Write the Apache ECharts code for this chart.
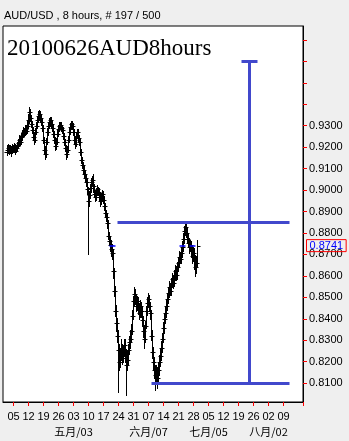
<!DOCTYPE html>
<html><head><meta charset="utf-8">
<script src="https://cdn.jsdelivr.net/npm/echarts@6/dist/echarts.min.js"></script>
<style>html,body{margin:0;padding:0;background:#efefef}#c{width:349px;height:441px}</style>
</head><body><div id="c"></div>
<script>
const symbolTitle = 'AUD/USD , 8 hours, # 197 / 500';
const chartNote = '20100626AUD8hours';
const firstBarTime = '2010-04-01 00:00';

const opens = [.9179,.9188,.9197,.9183,.9192,.9179,.9197,.9188,.9202,.9183,
.9197,.9206,.9220,.9234,.9225,.9248,.9257,.9271,.9267,.9285,
.9276,.9299,.9327,.9364,.9336,.9308,.9280,.9248,.9234,.9271,
.9299,.9327,.9345,.9354,.9336,.9317,.9290,.9234,.9188,.9169,
.9225,.9271,.9299,.9317,.9327,.9308,.9290,.9262,.9234,.9206,
.9225,.9262,.9285,.9299,.9304,.9290,.9280,.9253,.9225,.9197,
.9169,.9188,.9234,.9271,.9294,.9308,.9299,.9271,.9234,.9216,
.9253,.9271,.9243,.9225,.9179,.9142,.9118,.9095,.9077,.9058,
.9040,.9003,.8947,.8975,.9012,.9040,.9049,.9017,.8984,.8966,
.8984,.9003,.8993,.8970,.8947,.8966,.8984,.8956,.8924,.8891,
.8873,.8845,.8785,.8762,.8743,.8725,.8706,.8623,.8530,.8438,
.8382,.8322,.8253,.8197,.8225,.8262,.8215,.8243,.8276,.8229,
.8183,.8206,.8253,.8290,.8308,.8345,.8415,.8484,.8517,.8493,
.8461,.8484,.8447,.8429,.8461,.8438,.8392,.8345,.8308,.8368,
.8438,.8475,.8493,.8461,.8429,.8322,.8243,.8197,.8160,.8137,
.8151,.8123,.8160,.8197,.8225,.8262,.8308,.8355,.8401,.8429,
.8461,.8493,.8521,.8549,.8530,.8567,.8586,.8567,.8600,.8623,
.8604,.8641,.8660,.8688,.8678,.8706,.8734,.8771,.8808,.8827,
.8799,.8771,.8753,.8734,.8743,.8715,.8692,.8706,.8669,.8641,
.8660];

const highs = [.9206,.9211,.9206,.9206,.9202,.9211,.9206,.9216,.9211,.9206,
.9220,.9234,.9253,.9248,.9262,.9276,.9290,.9285,.9299,.9299,
.9317,.9350,.9382,.9373,.9345,.9317,.9290,.9262,.9285,.9313,
.9341,.9364,.9368,.9364,.9350,.9327,.9299,.9243,.9202,.9239,
.9285,.9313,.9331,.9336,.9336,.9317,.9299,.9271,.9243,.9239,
.9276,.9299,.9313,.9313,.9313,.9299,.9290,.9262,.9234,.9206,
.9202,.9248,.9285,.9308,.9317,.9317,.9308,.9280,.9248,.9267,
.9280,.9280,.9253,.9234,.9188,.9151,.9128,.9109,.9086,.9072,
.9049,.9012,.8993,.9026,.9054,.9063,.9072,.9026,.8998,.9003,
.9017,.9012,.9003,.8980,.8980,.8998,.8993,.8966,.8933,.8901,
.8882,.8854,.8799,.8780,.8762,.8743,.8715,.8632,.8549,.8461,
.8401,.8345,.8276,.8253,.8299,.8280,.8271,.8299,.8299,.8253,
.8243,.8276,.8317,.8345,.8373,.8438,.8503,.8544,.8535,.8512,
.8503,.8498,.8470,.8484,.8475,.8452,.8410,.8364,.8387,.8456,
.8498,.8517,.8507,.8475,.8438,.8345,.8262,.8215,.8178,.8178,
.8169,.8188,.8225,.8253,.8290,.8331,.8378,.8424,.8456,.8489,
.8512,.8544,.8572,.8563,.8586,.8609,.8600,.8623,.8646,.8641,
.8660,.8683,.8711,.8706,.8729,.8757,.8794,.8827,.8840,.8836,
.8817,.8789,.8771,.8762,.8757,.8734,.8729,.8725,.8692,.8688,
.8762];

const lows = [.9165,.9174,.9169,.9174,.9160,.9174,.9179,.9179,.9169,.9179,
.9188,.9197,.9211,.9211,.9216,.9234,.9248,.9253,.9257,.9262,
.9267,.9290,.9313,.9322,.9294,.9267,.9234,.9216,.9225,.9262,
.9290,.9317,.9331,.9322,.9304,.9276,.9220,.9174,.9146,.9155,
.9216,.9257,.9290,.9304,.9294,.9276,.9248,.9220,.9188,.9192,
.9216,.9253,.9276,.9285,.9276,.9267,.9239,.9211,.9183,.9146,
.9155,.9179,.9225,.9262,.9285,.9285,.9257,.9220,.9197,.9206,
.9243,.9229,.9211,.9165,.9128,.9104,.9081,.9063,.9040,.9021,
.8984,.8702,.8924,.8961,.8993,.9021,.8993,.8966,.8947,.8952,
.8975,.8975,.8952,.8928,.8933,.8952,.8938,.8905,.8878,.8854,
.8822,.8771,.8743,.8715,.8692,.8678,.8590,.8507,.8415,.8345,
.8290,.8058,.8160,.8174,.8206,.8188,.8197,.8225,.8197,.8045,
.8160,.8188,.8234,.8262,.8290,.8327,.8401,.8461,.8470,.8438,
.8442,.8424,.8401,.8410,.8410,.8364,.8317,.8266,.8290,.8355,
.8419,.8456,.8438,.8401,.8299,.8215,.8160,.8123,.8068,.8105,
.8077,.8100,.8137,.8178,.8206,.8243,.8290,.8336,.8382,.8410,
.8442,.8475,.8503,.8512,.8512,.8549,.8544,.8553,.8581,.8581,
.8586,.8623,.8641,.8660,.8660,.8688,.8715,.8753,.8789,.8780,
.8753,.8734,.8706,.8715,.8688,.8660,.8669,.8632,.8600,.8614,
.8641];

const closes = [.9188,.9197,.9183,.9192,.9179,.9197,.9188,.9202,.9183,.9197,
.9206,.9220,.9234,.9225,.9248,.9257,.9271,.9267,.9285,.9276,
.9299,.9327,.9364,.9336,.9308,.9280,.9248,.9234,.9271,.9299,
.9327,.9345,.9354,.9336,.9317,.9290,.9234,.9188,.9169,.9225,
.9271,.9299,.9317,.9327,.9308,.9290,.9262,.9234,.9206,.9225,
.9262,.9285,.9299,.9304,.9290,.9280,.9253,.9225,.9197,.9169,
.9188,.9234,.9271,.9294,.9308,.9299,.9271,.9234,.9216,.9253,
.9271,.9243,.9225,.9179,.9142,.9118,.9095,.9077,.9058,.9040,
.9003,.8947,.8975,.9012,.9040,.9049,.9017,.8984,.8966,.8984,
.9003,.8993,.8970,.8947,.8966,.8984,.8956,.8924,.8891,.8873,
.8845,.8785,.8762,.8743,.8725,.8706,.8623,.8530,.8438,.8382,
.8322,.8253,.8197,.8225,.8262,.8215,.8243,.8276,.8229,.8183,
.8206,.8253,.8290,.8308,.8345,.8415,.8484,.8517,.8493,.8461,
.8484,.8447,.8429,.8461,.8438,.8392,.8345,.8308,.8368,.8438,
.8475,.8493,.8461,.8429,.8322,.8243,.8197,.8160,.8137,.8151,
.8123,.8160,.8197,.8225,.8262,.8308,.8355,.8401,.8429,.8461,
.8493,.8521,.8549,.8530,.8567,.8586,.8567,.8600,.8623,.8604,
.8641,.8660,.8688,.8678,.8706,.8734,.8771,.8808,.8827,.8799,
.8771,.8753,.8734,.8743,.8715,.8692,.8706,.8669,.8641,.8660,
.8741];

const weekTickDates = ['2010-04-05','2010-04-12','2010-04-19','2010-04-26','2010-05-03','2010-05-10','2010-05-17','2010-05-24','2010-05-31','2010-06-07','2010-06-14','2010-06-21','2010-06-28','2010-07-05','2010-07-12','2010-07-19','2010-07-26','2010-08-02','2010-08-09'];
const weekTickLabels = ['05','12','19','26','03','10','17','24','31','07','14','21','28','05','12','19','26','02','09'];
const monthTickDates = ['2010-05-03','2010-06-07','2010-07-05','2010-08-02'];
const monthTickLabels = ['五月/03','六月/07','七月/05','八月/02'];

const yTickValues = [0.81,0.82,0.83,0.84,0.85,0.86,0.87,0.88,0.89,0.90,0.91,0.92,0.93,0.94,0.95,0.96,0.97];
const yLabelValues = [0.81,0.82,0.83,0.84,0.85,0.86,0.87,0.88,0.89,0.90,0.91,0.92,0.93];

// range-projection annotation
const rangeTop = 0.96, rangeMid = 0.885, rangeLow = 0.81;
const rangeAxisTime = '2010-07-22 16:00';
const rangeCapStart = '2010-07-20 00:00', rangeCapEnd = '2010-07-27 08:00';
const midLineStart = '2010-05-21 16:00', lowLineStart = '2010-06-08 00:00', levelLineEnd = '2010-08-11 00:00';
const priceMarkSpans = [['2010-05-19 00:00','2010-05-21 00:00'],['2010-06-21 08:00','2010-06-23 08:00'],['2010-06-24 16:00','2010-06-28 16:00']];

// 8-hour slots, Monday-Friday
const categories = [];
(function(){
  let t = Date.UTC(2010, 2, 30, 16);
  const pad = n => (n < 10 ? '0' : '') + n;
  while (categories.length < 300) {
    const d = new Date(t);
    const wd = d.getUTCDay();
    if (wd !== 0 && wd !== 6) {
      categories.push(d.getUTCFullYear() + '-' + pad(d.getUTCMonth()+1) + '-' + pad(d.getUTCDate()) + ' ' + pad(d.getUTCHours()) + ':00');
    }
    t += 8 * 3600 * 1000;
  }
})();

const startIdx = categories.indexOf(firstBarTime);
const ohlc = closes.map((c, i) => [startIdx + i, opens[i], highs[i], lows[i], c]);
const lastClose = closes[closes.length - 1];

const isWeekTick = (i) => { const v = categories[i]; return v.endsWith('00:00') && weekTickDates.indexOf(v.slice(0,10)) >= 0; };
const isMonthTick = (i) => { const v = categories[i]; return v.endsWith('00:00') && monthTickDates.indexOf(v.slice(0,10)) >= 0; };

function renderOHLC(params, api) {
  const idx = api.value(0);
  const pO = api.coord([idx, api.value(1)]);
  const pH = api.coord([idx, api.value(2)]);
  const pL = api.coord([idx, api.value(3)]);
  const pC = api.coord([idx, api.value(4)]);
  const x = Math.floor(pO[0]) + 0.5;
  const st = { stroke: '#000', lineWidth: 1 };
  const oy = Math.round(pO[1]) + 0.5, cy = Math.round(pC[1]) + 0.5;
  return { type: 'group', children: [
    { type: 'line', shape: { x1: x, y1: Math.round(pH[1]) - 1, x2: x, y2: Math.round(pL[1]) + 1 }, style: st },
    { type: 'line', shape: { x1: x - 3, y1: oy, x2: x, y2: oy }, style: st },
    { type: 'line', shape: { x1: x, y1: cy, x2: x + 3, y2: cy }, style: st }
  ]};
}

const blue = '#4148cc';
const thick = { color: blue, width: 3, type: 'solid', opacity: 1 };
const markData = [
  [{ coord: [rangeAxisTime, rangeTop], lineStyle: thick }, { coord: [rangeAxisTime, rangeLow] }],
  [{ coord: [rangeCapStart, rangeTop], lineStyle: thick }, { coord: [rangeCapEnd, rangeTop] }],
  [{ coord: [midLineStart, rangeMid], lineStyle: thick }, { coord: [levelLineEnd, rangeMid] }],
  [{ coord: [lowLineStart, rangeLow], lineStyle: thick }, { coord: [levelLineEnd, rangeLow] }]
];
priceMarkSpans.forEach(s => {
  markData.push([{ coord: [s[0], lastClose], lineStyle: { color: '#0000ff', width: 1.5, type: 'solid', opacity: 1 } }, { coord: [s[1], lastClose] }]);
});

const chart = echarts.init(document.getElementById('c'), null, { renderer: 'canvas' });
chart.setOption({
  animation: false,
  backgroundColor: '#efefef',
  title: [
    { text: symbolTitle, left: 4, top: 10, padding: 0, textStyle: { fontSize: 11, fontWeight: 'normal', color: '#000', fontFamily: 'Liberation Sans' } },
    { text: chartNote, left: 7, top: 37, padding: 0, textStyle: { fontSize: 23, fontWeight: 'normal', color: '#000', fontFamily: 'Liberation Serif' } }
  ],
  grid: { left: 3, right: 46, top: 26, bottom: 39, show: true, borderColor: '#000', borderWidth: 1, backgroundColor: '#fff', containLabel: false },
  xAxis: [
    { type: 'category', data: categories, boundaryGap: true, position: 'bottom',
      axisLine: { show: true, lineStyle: { color: '#000' } },
      axisTick: { show: true, interval: isWeekTick, length: 4, lineStyle: { color: '#ff0000' } },
      axisLabel: { interval: isWeekTick, formatter: v => weekTickLabels[weekTickDates.indexOf(v.slice(0,10))], color: '#000', fontSize: 11, fontFamily: 'Liberation Sans', margin: 9 },
      splitLine: { show: false } },
    { type: 'category', data: categories, boundaryGap: true, position: 'bottom', offset: 17,
      axisLine: { show: false }, axisTick: { show: false },
      axisLabel: { interval: isMonthTick, formatter: v => monthTickLabels[monthTickDates.indexOf(v.slice(0,10))], color: '#000', fontSize: 11, fontFamily: 'Noto Sans CJK SC', margin: 7 },
      splitLine: { show: false } }
  ],
  yAxis: { type: 'value', position: 'right', min: 0.8012, max: 0.9765,
    axisLine: { show: true, lineStyle: { color: '#000' } },
    axisTick: { show: true, length: 4, customValues: yTickValues, lineStyle: { color: '#ff0000' } },
    axisLabel: { customValues: yLabelValues, formatter: v => v.toFixed(4), color: '#000', fontSize: 11, fontFamily: 'Liberation Sans', margin: 6 },
    splitLine: { show: false } },
  series: [{
    type: 'custom', name: 'AUDUSD', xAxisIndex: 0, yAxisIndex: 0, clip: false,
    renderItem: renderOHLC, data: ohlc, encode: { x: 0, y: [1, 2, 3, 4] },
    markLine: { silent: true, symbol: 'none', animation: false, label: { show: false }, data: markData },
    markPoint: { silent: true, animation: false, data: [{
      coord: [categories[categories.length - 1], lastClose], symbol: 'rect', symbolSize: 2,
      itemStyle: { color: 'rgba(0,0,0,0)' },
      label: { show: true, position: 'right', distance: 3, formatter: lastClose.toFixed(4), color: '#0000ff',
        fontFamily: 'Liberation Sans', fontSize: 11, borderColor: '#ff0000', borderWidth: 1, padding: [1, 3, 0, 3], lineHeight: 11, opacity: 1 }
    }] }
  }]
});
</script></body></html>
